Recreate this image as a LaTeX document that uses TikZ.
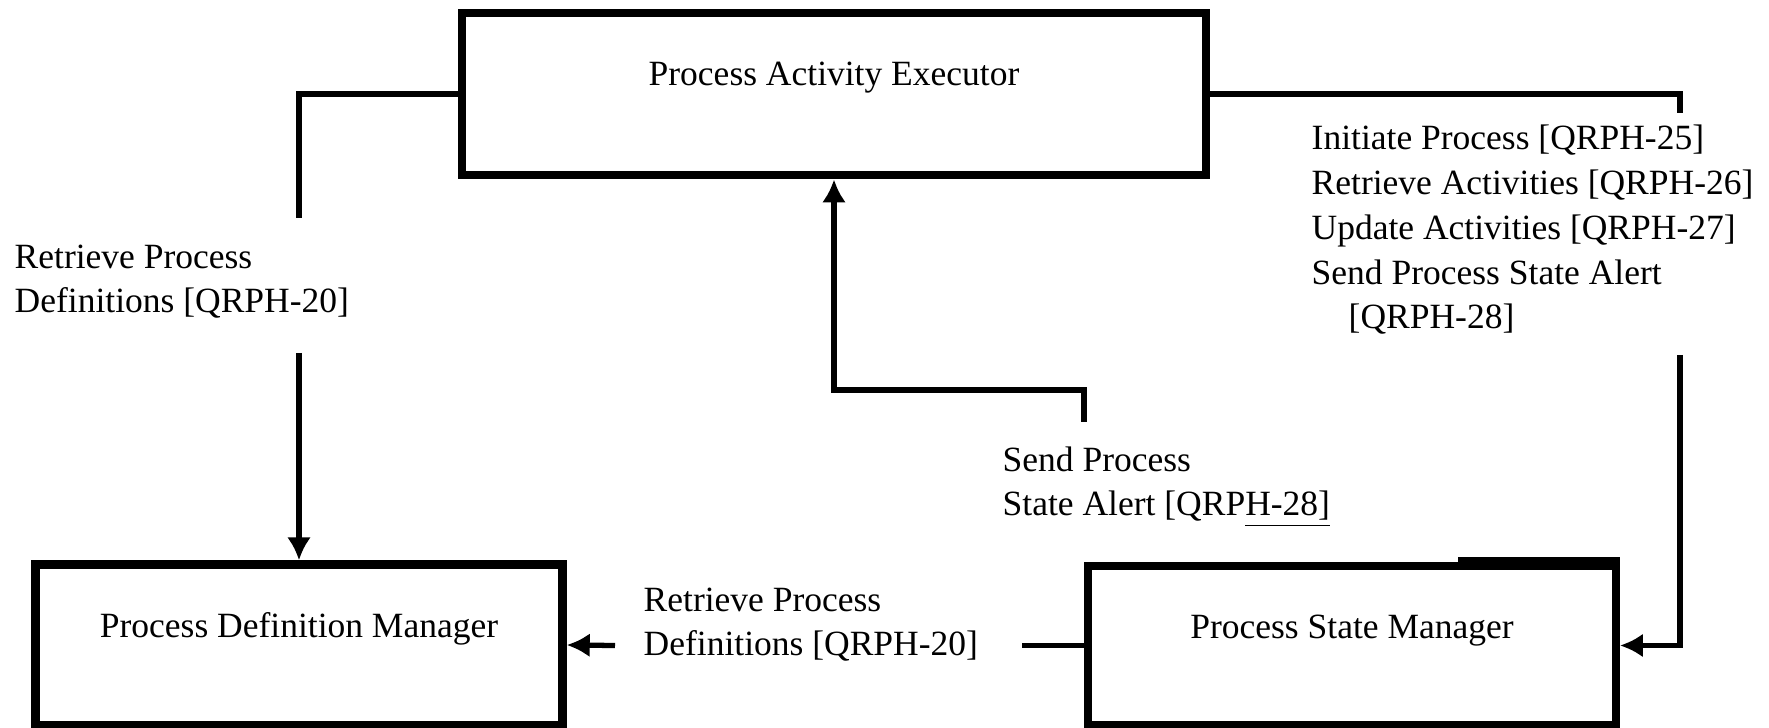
\documentclass[tikz,border=0pt]{standalone}
\usepackage{fontspec}
\setmainfont{Liberation Serif}
\usetikzlibrary{arrows.meta}

\begin{document}
\begin{tikzpicture}[
  box/.style={draw, line width=2.4pt, inner sep=0pt},
  conn/.style={line width=1.5pt},
  arr/.style={conn, -{Latex[length=2.3mm,width=2.4mm]}},
  title/.style={anchor=base, inner sep=0pt, font=\fontsize{10.1}{12.8}\selectfont},
  lbl/.style={anchor=base west, inner sep=0pt, align=left, font=\fontsize{10.1}{12.8}\selectfont}]
\useasboundingbox (0,0) rectangle (17.69,-7.28);

\node[box, minimum width=7.435cm, minimum height=1.625cm] (pae) at (8.34,-0.94) {};
\node[box, minimum width=5.27cm, minimum height=1.61cm] (pdm) at (2.99,-6.45) {};
\node[box, minimum width=5.275cm, minimum height=1.59cm] (psm) at (13.52,-6.455) {};
\fill (14.58,-5.57) rectangle (psm.north east);

\node[title] (pae-t) at ([yshift=-7.7mm]pae.north) {Process Activity Executor};
\node[title] (pdm-t) at ([yshift=-7.7mm]pdm.north) {Process Definition Manager};
\node[title] (psm-t) at ([yshift=-7.7mm]psm.north) {Process State Manager};

% base = last line
\node[lbl] (rpd-l) at (0.14,-3.13) {Retrieve Process\\Definitions [QRPH-20]};
\node[lbl] (ops) at (13.11,-3.29) {Initiate Process [QRPH-25]\\Retrieve Activities [QRPH-26]\\Update Activities [QRPH-27]\\Send Process State Alert\\\hspace*{0.37cm}[QRPH-28]};
\node[lbl] (spsa) at (10.02,-5.16) {Send Process\\State Alert [QRP\underline{H-28]}};
\node[lbl] (rpd-b) at (6.43,-6.56) {Retrieve Process\\Definitions [QRPH-20]};

\coordinate (c1) at (2.99,-2.18);
\coordinate (c2) at (2.99,-3.53);
\coordinate (c3) at (16.80,-1.13);
\coordinate (c4) at (16.80,-3.55);
\coordinate (c5) at (10.84,-4.22);
\coordinate (c6) at (10.22,-6.455);
\coordinate (c7) at (6.15,-6.455);

\draw[conn] (pae.west) -| (c1);
\draw[arr] (c2) -- (pdm.north);
\draw[conn] (pae.east) -| (c3);
\draw[arr] (c4) |- (psm.east);
\draw[arr] (c5) -- ++(0,0.32) -| (pae.south);
\draw[conn] (psm.west) -- (c6);
\draw[arr] (c7) -- (pdm.east);
\end{tikzpicture}
\end{document}
